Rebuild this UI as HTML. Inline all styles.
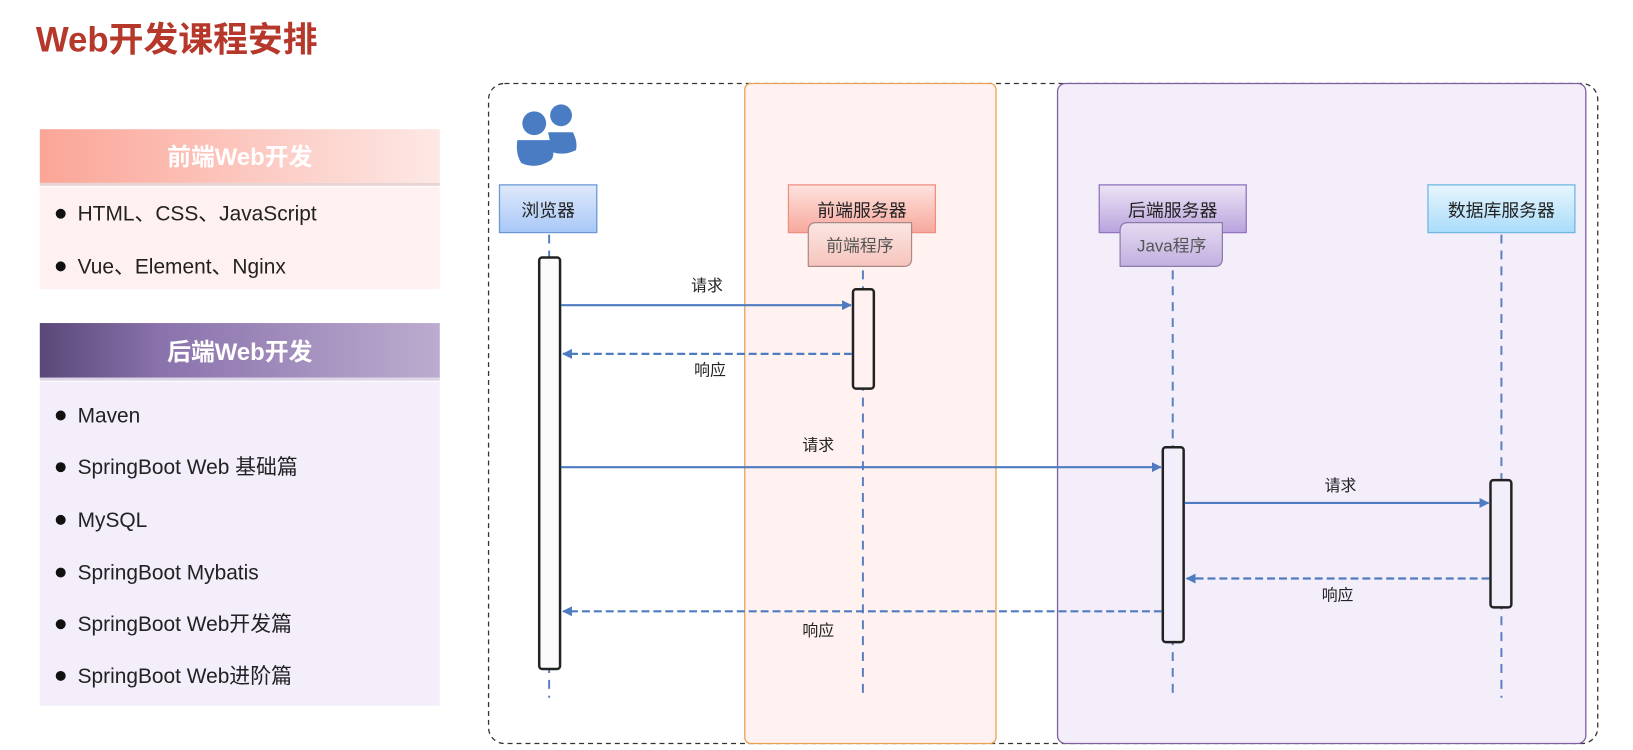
<!DOCTYPE html>
<html><head><meta charset="utf-8"><style>
body{margin:0;width:1633px;height:750px;background:#fff;overflow:hidden}
svg{display:block}
text{font-family:"Liberation Sans","Noto Sans CJK SC",sans-serif}
</style></head><body>
<svg width="1633" height="750" viewBox="0 0 1633 750" xmlns="http://www.w3.org/2000/svg">
<defs>
<linearGradient id="gf" x1="0" x2="1"><stop offset="0" stop-color="#fba597"/><stop offset="1" stop-color="#fde8e5"/></linearGradient>
<linearGradient id="gb" x1="0" x2="1"><stop offset="0" stop-color="#594878"/><stop offset="0.3" stop-color="#8a72ac"/><stop offset="1" stop-color="#bcaccf"/></linearGradient>
<linearGradient id="bl" x1="0" y1="0" x2="0" y2="1"><stop offset="0" stop-color="#dfe9fb"/><stop offset="1" stop-color="#a9c8f7"/></linearGradient>
<linearGradient id="pk" x1="0" y1="0" x2="0" y2="1"><stop offset="0" stop-color="#fde3de"/><stop offset="1" stop-color="#f8a89d"/></linearGradient>
<linearGradient id="pk2" x1="0" y1="0" x2="0" y2="1"><stop offset="0" stop-color="#fbe6e2"/><stop offset="1" stop-color="#f6c4bc"/></linearGradient>
<linearGradient id="pu" x1="0" y1="0" x2="0" y2="1"><stop offset="0" stop-color="#ece4f6"/><stop offset="1" stop-color="#b9a3dd"/></linearGradient>
<linearGradient id="pu2" x1="0" y1="0" x2="0" y2="1"><stop offset="0" stop-color="#e4daf1"/><stop offset="1" stop-color="#c2b0e0"/></linearGradient>
<linearGradient id="sk" x1="0" y1="0" x2="0" y2="1"><stop offset="0" stop-color="#e8f6fe"/><stop offset="1" stop-color="#a9dcfa"/></linearGradient>
<marker id="ah" markerWidth="10" markerHeight="10" refX="9" refY="5" orient="auto" markerUnits="userSpaceOnUse"><path d="M0,0 L10,5 L0,10 Z" fill="#4f7bc0"/></marker>
</defs>

<g transform="matrix(0.995,0,0,0.994,0,0)">
<text x="36" y="52" font-size="35" font-weight="bold" fill="#b5382b">Web开发课程安排</text>

<!-- left panel -->
<rect x="40" y="130" width="402" height="54" fill="url(#gf)"/>
<rect x="40" y="184" width="402" height="3" fill="#e8d4d2"/>
<text x="241" y="166" font-size="24" font-weight="bold" fill="#fff" text-anchor="middle">前端Web开发</text>
<rect x="40" y="188" width="402" height="103" fill="#fff1ef"/>
<g font-size="21" fill="#222">
<circle cx="61" cy="215" r="5" fill="#111"/><text x="78" y="222">HTML、CSS、JavaScript</text>
<circle cx="61" cy="268" r="5" fill="#111"/><text x="78" y="275">Vue、Element、Nginx</text>
</g>
<rect x="40" y="325" width="402" height="55" fill="url(#gb)"/>
<rect x="40" y="380" width="402" height="3" fill="#ddd6e6"/>
<text x="241" y="362" font-size="24" font-weight="bold" fill="#fff" text-anchor="middle">后端Web开发</text>
<rect x="40" y="384" width="402" height="326" fill="#f3eefa"/>
<g font-size="21" fill="#222">
<circle cx="61" cy="418" r="5" fill="#111"/><text x="78" y="425">Maven</text>
<circle cx="61" cy="470" r="5" fill="#111"/><text x="78" y="477">SpringBoot Web 基础篇</text>
<circle cx="61" cy="523" r="5" fill="#111"/><text x="78" y="530">MySQL</text>
<circle cx="61" cy="576" r="5" fill="#111"/><text x="78" y="583">SpringBoot Mybatis</text>
<circle cx="61" cy="628" r="5" fill="#111"/><text x="78" y="635">SpringBoot Web开发篇</text>
<circle cx="61" cy="680" r="5" fill="#111"/><text x="78" y="687">SpringBoot Web进阶篇</text>
</g>
</g>

<g transform="matrix(0.993,0,0,0.994,0,0)">
<!-- diagram frames -->
<rect x="492" y="84" width="1117" height="664" rx="16" fill="none" stroke="#333" stroke-width="1.3" stroke-dasharray="5,4"/>
<rect x="750" y="84" width="253" height="664" rx="6" fill="#fff2f0" stroke="#e9a255" stroke-width="1.3"/>
<rect x="1065" y="84" width="532" height="664" rx="8" fill="#f4eefa" stroke="#7e5fa0" stroke-width="1.3"/>

<!-- users icon -->
<g fill="#4a7cc4">
<circle cx="538" cy="124" r="12"/>
<circle cx="565" cy="116" r="11"/>
<path d="M552,133 L577,133 Q582,143 580,151 Q568,157 556,153 Z"/>
<path d="M521,141 L554,141 Q560,155 555,161 Q540,171 525,164 Q519,155 521,141 Z"/>
</g>

<!-- lifelines -->
<g stroke="#5a80c0" stroke-width="2" stroke-dasharray="9,7">
<line x1="553" y1="236" x2="553" y2="702"/>
<line x1="869" y1="272" x2="869" y2="702"/>
<line x1="1181" y1="272" x2="1181" y2="702"/>
<line x1="1512" y1="236" x2="1512" y2="702"/>
</g>

<!-- participant boxes -->
<rect x="503" y="186" width="98" height="48" fill="url(#bl)" stroke="#6c98d6" stroke-width="1.3"/>
<text x="552" y="218" font-size="18" fill="#222" text-anchor="middle">浏览器</text>
<rect x="794" y="186" width="148" height="48" fill="url(#pk)" stroke="#ef8f84" stroke-width="1.3"/>
<text x="868" y="218" font-size="18" fill="#222" text-anchor="middle">前端服务器</text>
<path d="M826,224 H918 V260 Q918,268 910,268 H814 V232 Q814,224 822,224 Z" fill="url(#pk2)" stroke="#a88" stroke-width="1.2"/>
<text x="866" y="253" font-size="17" fill="#555" text-anchor="middle">前端程序</text>
<rect x="1107" y="186" width="148" height="48" fill="url(#pu)" stroke="#8f74c0" stroke-width="1.3"/>
<text x="1181" y="218" font-size="18" fill="#222" text-anchor="middle">后端服务器</text>
<path d="M1136,224 H1231 V260 Q1231,268 1223,268 H1128 V232 Q1128,224 1136,224 Z" fill="url(#pu2)" stroke="#8a7aa8" stroke-width="1.2"/>
<text x="1180" y="253" font-size="17" fill="#555" text-anchor="middle">Java程序</text>
<rect x="1438" y="186" width="148" height="48" fill="url(#sk)" stroke="#6fb8e0" stroke-width="1.3"/>
<text x="1512" y="218" font-size="18" fill="#222" text-anchor="middle">数据库服务器</text>

<!-- activations -->
<g stroke="#222" stroke-width="2.5">
<rect x="543" y="259" width="21" height="414" rx="3" fill="#fafafa"/>
<rect x="859" y="291" width="21" height="100" rx="3" fill="#fff2f0"/>
<rect x="1171" y="450" width="21" height="196" rx="3" fill="#f2eefa"/>
<rect x="1501" y="483" width="21" height="128" rx="3" fill="#f2eefa"/>
</g>

<!-- messages -->
<g stroke="#4f7bc0" stroke-width="2.2" fill="none">
<line x1="565" y1="307" x2="857" y2="307" marker-end="url(#ah)"/>
<line x1="858" y1="356" x2="567" y2="356" stroke-dasharray="8,4" marker-end="url(#ah)"/>
<line x1="565" y1="470" x2="1169" y2="470" marker-end="url(#ah)"/>
<line x1="1193" y1="506" x2="1499" y2="506" marker-end="url(#ah)"/>
<line x1="1500" y1="582" x2="1195" y2="582" stroke-dasharray="8,4" marker-end="url(#ah)"/>
<line x1="1170" y1="615" x2="567" y2="615" stroke-dasharray="8,4" marker-end="url(#ah)"/>
</g>
<g font-size="16" fill="#222" text-anchor="middle">
<text x="712" y="293">请求</text>
<text x="715" y="378">响应</text>
<text x="824" y="453">请求</text>
<text x="1350" y="494">请求</text>
<text x="1347" y="604">响应</text>
<text x="824" y="640">响应</text>
</g>
</g>
</svg>
</body></html>
